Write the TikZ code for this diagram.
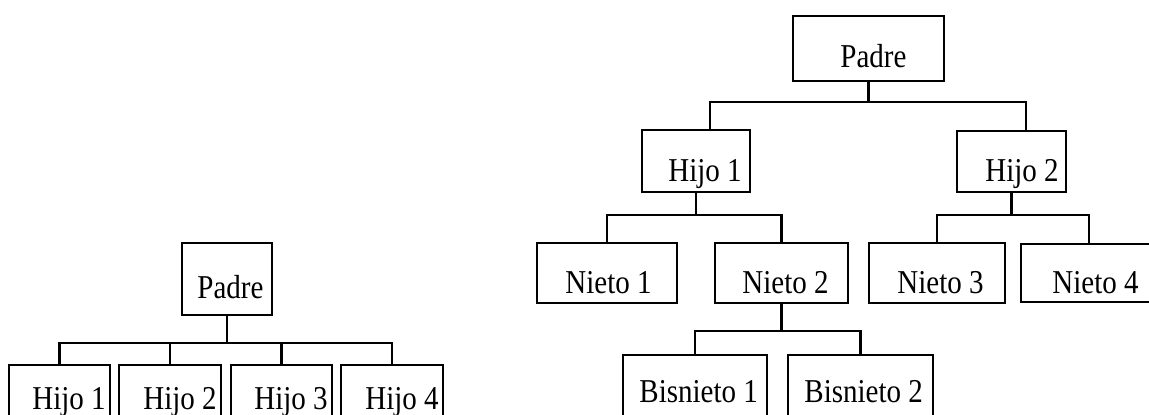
\documentclass[tikz,border=0pt]{standalone}
\usepackage{fontspec}
\setmainfont{Liberation Serif}
\newcommand{\tx}[1]{\scalebox{1}[1.15]{#1}}
\begin{document}
\begin{tikzpicture}[x=0.5pt,y=-0.5pt,
  box/.style={draw, line width=1.25pt, inner sep=0pt, minimum height=30pt},
  lbl/.style={inner sep=0pt, anchor=base west, font=\fontsize{14.5pt}{16pt}\selectfont},
  conn/.style={line width=1.15pt}]
\useasboundingbox (0,0) rectangle (1149,415);
\clip (0,0) rectangle (1149,415);
% ---------- left tree ----------
\node[box, minimum width=45pt, minimum height=36pt] (LP) at (227,279) {};
\node[box, minimum width=50.5pt, minimum height=35pt] (LH1) at (59.5,400) {};
\node[box, minimum width=51pt, minimum height=35pt] (LH2) at (170,400) {};
\node[box, minimum width=50.5pt, minimum height=35pt] (LH3) at (281.5,400) {};
\node[box, minimum width=51pt, minimum height=35pt] (LH4) at (392,400) {};
\node[lbl] (tLP) at (197,299) {\tx{Padre}};
\node[lbl] (tLH1) at (32,410) {\tx{Hijo 1}};
\node[lbl] (tLH2) at (143,410) {\tx{Hijo 2}};
\node[lbl] (tLH3) at (254,410) {\tx{Hijo 3}};
\node[lbl] (tLH4) at (365,410) {\tx{Hijo 4}};
\coordinate (lb) at (0,343);
\draw[conn] (LP.south) -- (LP.south |- lb);
\draw[conn] (LH1.north) -- (LH1.north |- lb) -- (LH4.north |- lb) -- (LH4.north);
\draw[conn] (LH2.north) -- (LH2.north |- lb);
\draw[conn] (LH3.north) -- (LH3.north |- lb);
% ---------- right tree ----------
\node[box, minimum width=75.5pt, minimum height=32.5pt] (RP) at (868.5,48.5) {};
\node[box, minimum width=54pt, minimum height=31pt] (RH1) at (696,161) {};
\node[box, minimum width=54.5pt, minimum height=30.5pt] (RH2) at (1011.5,161.5) {};
\node[box, minimum width=70pt] (RN1) at (607,273) {};
\node[box, minimum width=66.5pt] (RN2) at (781.5,273) {};
\node[box, minimum width=68pt] (RN3) at (937,273) {};
\node[box, minimum width=68pt, minimum height=29pt] (RN4) at (1089,273) {};
\node[box, minimum width=72pt, minimum height=40pt] (RB1) at (695,395) {};
\node[box, minimum width=72.5pt, minimum height=40pt] (RB2) at (860.5,395) {};
\node[lbl] (tRP) at (840,68) {\tx{Padre}};
\node[lbl] (tRH1) at (668,182) {\tx{Hijo 1}};
\node[lbl] (tRH2) at (985,182) {\tx{Hijo 2}};
\node[lbl] (tRN1) at (565,294) {\tx{Nieto 1}};
\node[lbl] (tRN2) at (742,294) {\tx{Nieto 2}};
\node[lbl] (tRN3) at (897,294) {\tx{Nieto 3}};
\node[lbl] (tRN4) at (1052,294) {\tx{Nieto 4}};
\node[lbl] (tRB1) at (639,403) {\tx{Bisnieto 1}};
\node[lbl] (tRB2) at (804,403) {\tx{Bisnieto 2}};
\coordinate (b1l) at (710,102);
\coordinate (b1r) at (1026,102);
\draw[conn] (RP.south) -- (RP.south |- b1l);
\draw[conn] (b1l |- RH1.north) -- (b1l) -- (b1r) -- (b1r |- RH2.north);
\coordinate (b2) at (0,215);
\draw[conn] (RH1.south) -- (RH1.south |- b2);
\draw[conn] (RN1.north) -- (RN1.north |- b2) -- (RN2.north |- b2) -- (RN2.north);
\draw[conn] (RH2.south) -- (RH2.south |- b2);
\draw[conn] (RN3.north) -- (RN3.north |- b2) -- (RN4.north |- b2) -- (RN4.north);
\coordinate (b3) at (0,331);
\draw[conn] (RN2.south) -- (RN2.south |- b3);
\draw[conn] (RB1.north) -- (RB1.north |- b3) -- (RB2.north |- b3) -- (RB2.north);
\end{tikzpicture}
\end{document}
